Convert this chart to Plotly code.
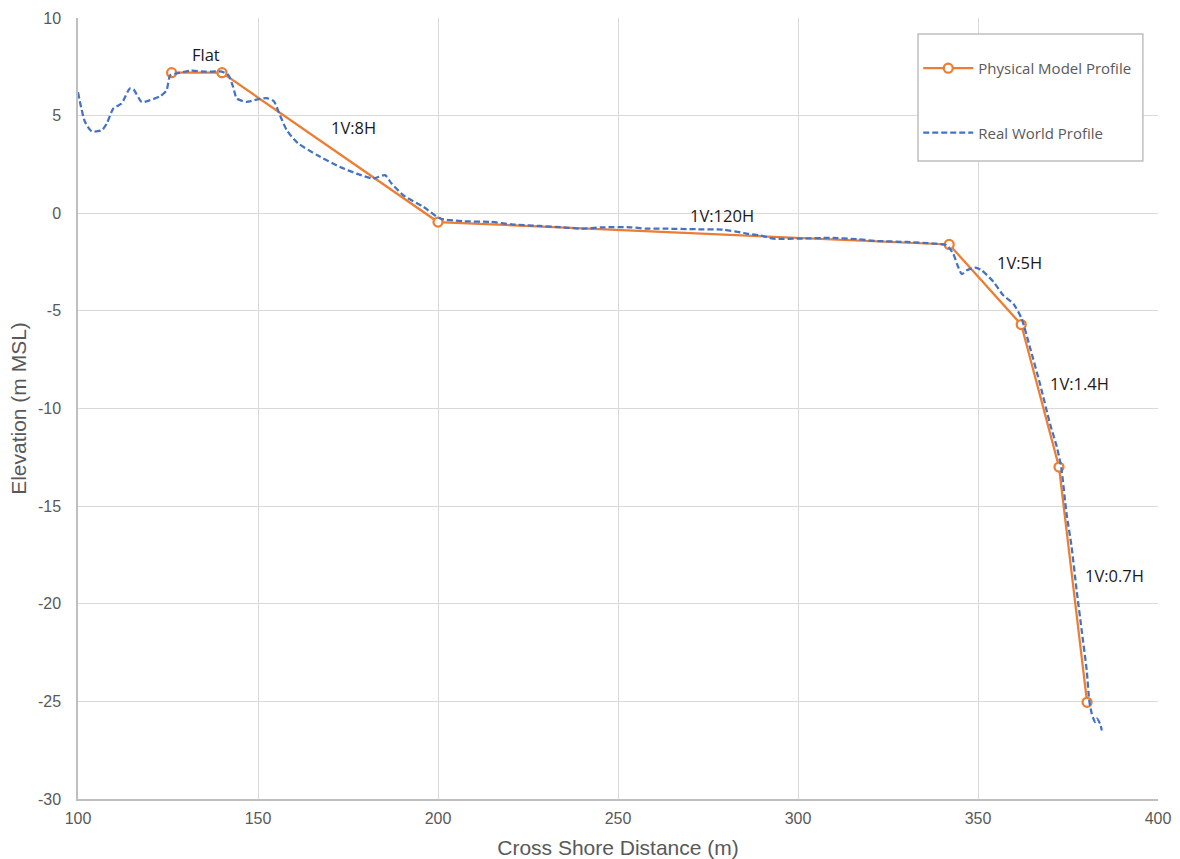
import plotly.graph_objects as go

# Simplified physical model profile (straight segments between break points)
model_x = [126, 140, 200, 342, 362, 372.5, 380.3]
model_y = [7.2, 7.2, -0.45, -1.6, -5.7, -13.0, -25.05]

# Surveyed real-world cross-shore profile
real_x = [100, 101.9, 103.8, 106.6, 108, 109.8, 112.1, 114.4, 115.4, 117.7, 120, 122.8,
          124.6, 125.6, 127.4, 131.1, 135.7, 139.9, 141.8, 143.1, 144.1, 146.8, 149.6,
          152.4, 154.4, 156.1, 158, 161, 166.5, 172.8, 177.4, 182, 185.3, 187.1, 190.4,
          196, 200.6, 207, 214.4, 220.9, 228.3, 234.8, 239.4, 245.9, 253.3, 258, 262.6,
          271.8, 279.3, 285.7, 289.4, 293.1, 300.6, 308.9, 316.3, 321.9, 330.2, 337.6,
          341.3, 343.1, 344.5, 345.5, 346.9, 349.2, 351, 354.3, 357, 359.8, 362.1, 364.4,
          367.2, 370, 371.9, 373.1, 374.6, 376, 377.4, 378.8, 380.2, 380.9, 381.6, 382.5,
          383, 383.9, 384.4]
real_y = [6.2, 4.7, 4.2, 4.25, 4.6, 5.36, 5.62, 6.39, 6.35, 5.7, 5.79, 5.99,
          6.3, 7.07, 7.16, 7.3, 7.25, 7.25, 7.07, 6.47, 5.88, 5.7, 5.82,
          5.9, 5.74, 5.02, 4.25, 3.6, 2.97, 2.37, 2.03, 1.78, 1.95, 1.52, 0.92,
          0.32, -0.27, -0.41, -0.44, -0.58, -0.65, -0.72, -0.79, -0.72, -0.72, -0.79, -0.79,
          -0.82, -0.84, -1.04, -1.13, -1.3, -1.3, -1.26, -1.33, -1.42, -1.47, -1.55,
          -1.64, -2.07, -2.75, -3.12, -2.92, -2.78, -2.92, -3.51, -4.2, -4.63, -5.39, -6.85,
          -8.73, -10.78, -11.97, -13.0, -15.38, -17.09, -19.31, -21.36, -23.41, -24.95, -25.63, -26.06,
          -25.88, -26.14, -26.49]

# Slope labels placed beside each model segment
slope_labels = ["Flat", "1V:8H", "1V:120H", "1V:5H", "1V:1.4H", "1V:0.7H"]
label_x = [135.6, 176.4, 278.9, 361.4, 378.1, 387.8]
label_y = [8.15, 4.4, -0.1, -2.5, -8.7, -18.55]

x_ticks = [100, 150, 200, 250, 300, 350, 400]
y_ticks = [10, 5, 0, -5, -10, -15, -20, -25, -30]

ORANGE = "#ED7D31"
BLUE = "#4472C4"
GRID = "#D9D9D9"
TXT = "#595959"
FONT = "Liberation Sans, Arial, sans-serif"
LABEL_FONT = "Open Sans, sans-serif"

fig = go.Figure()

fig.add_trace(go.Scatter(
    x=model_x, y=model_y, mode="lines+markers", name="Physical Model Profile",
    legendgroup="model",
    line=dict(color=ORANGE, width=2.25),
    marker=dict(symbol="circle", size=9, color="white",
                line=dict(color=ORANGE, width=2.25)),
))

fig.add_trace(go.Scatter(
    x=real_x, y=real_y, mode="lines", name="Real World Profile",
    legendgroup="real",
    line=dict(color=BLUE, width=2.25, dash="6px,3px", shape="spline", smoothing=0.6),
))

for txt, lx, ly in zip(slope_labels, label_x, label_y):
    fig.add_annotation(x=lx, y=ly, text=txt, showarrow=False,
                       font=dict(family=LABEL_FONT, size=16.5, color="#1a1a1a"))

# White legend frame covering the gridlines behind it
fig.add_shape(type="rect", xref="paper", yref="paper",
              x0=0.7778, x1=0.986, y0=0.8169, y1=0.9795,
              fillcolor="white", line=dict(color="#BFBFBF", width=1.5), layer="above")

fig.update_layout(
    width=1180, height=859,
    margin=dict(l=78, r=22, t=18, b=60),
    paper_bgcolor="white", plot_bgcolor="white",
    font=dict(family=FONT, color=TXT),
    showlegend=True,
    legend=dict(
        x=0.778, y=0.9565, xanchor="left", yanchor="top",
        bgcolor="rgba(0,0,0,0)", borderwidth=0,
        font=dict(family=LABEL_FONT, size=15, color=TXT),
        tracegroupgap=42, itemwidth=50,
    ),
)

fig.update_xaxes(
    range=[100, 400], tickvals=x_ticks, ticktext=[str(v) for v in x_ticks],
    showgrid=True, gridcolor=GRID, gridwidth=1,
    showline=True, linecolor="#BFBFBF", linewidth=1.5,
    zeroline=False, ticks="", tickfont=dict(size=16, color=TXT),
    ticklabelstandoff=4,
    title=dict(text="Cross Shore Distance (m)", font=dict(size=21, color=TXT), standoff=14),
    automargin=False,
)
fig.update_yaxes(
    range=[-30, 10], tickvals=y_ticks, ticktext=[str(v) for v in y_ticks],
    showgrid=True, gridcolor=GRID, gridwidth=1,
    showline=True, linecolor="#BFBFBF", linewidth=1.5,
    zeroline=False, ticks="", tickfont=dict(size=16, color=TXT),
    ticklabelstandoff=12,
    title=dict(text="Elevation (m MSL)", font=dict(size=21, color=TXT), standoff=6),
    automargin=False,
)

fig.write_html("out.html")
